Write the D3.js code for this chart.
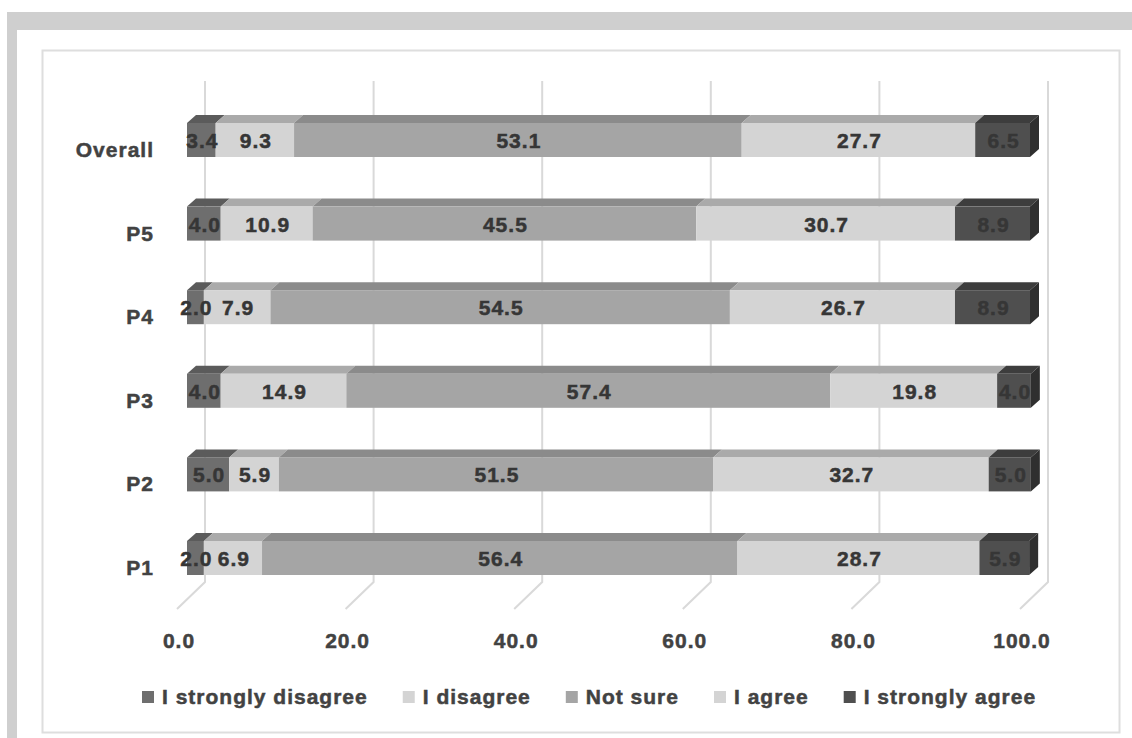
<!DOCTYPE html>
<html>
<head>
<meta charset="utf-8">
<script src="https://cdn.jsdelivr.net/npm/d3@7"></script>
<style>
  html, body { margin: 0; padding: 0; background: #ffffff; }
  svg { display: block; }
  text { font-family: "Liberation Sans", Arial, sans-serif; font-weight: bold; font-size: 21px; letter-spacing: 1px; stroke-width: 0.5px; }
</style>
</head>
<body>
<svg id="chart" width="1132" height="738"></svg>
<script>
// Response shares (%) per group, stacked left to right
const categories = ["Overall", "P5", "P4", "P3", "P2", "P1"];
const seriesNames = ["I strongly disagree", "I disagree", "Not sure", "I agree", "I strongly agree"];
const stronglyDisagree = [3.4, 4.0, 2.0, 4.0, 5.0, 2.0];
const disagree         = [9.3, 10.9, 7.9, 14.9, 5.9, 6.9];
const notSure          = [53.1, 45.5, 54.5, 57.4, 51.5, 56.4];
const agree            = [27.7, 30.7, 26.7, 19.8, 32.7, 28.7];
const stronglyAgree    = [6.5, 8.9, 8.9, 4.0, 5.0, 5.9];
const tickValues = [0, 20, 40, 60, 80, 100];

const seriesValues = [stronglyDisagree, disagree, notSure, agree, stronglyAgree];
const frontFill = ["#6e6e6e", "#d4d4d4", "#a5a5a5", "#d4d4d4", "#4f4f4f"];
const topFill   = ["#5b5b5b", "#aaaaaa", "#8b8b8b", "#aaaaaa", "#3d3d3d"];
const sideFill  = "#2f2f2f";
const labelColor = "#424242";
const valueColor = "#363636";

const svg = d3.select("#chart");

// outer frame
svg.append("rect").attr("x", 7).attr("y", 12).attr("width", 1125).attr("height", 726).attr("fill", "#cfcfcf");
svg.append("rect").attr("x", 17).attr("y", 30).attr("width", 1115).attr("height", 708).attr("fill", "#ffffff");
svg.append("rect").attr("x", 42.5).attr("y", 50.5).attr("width", 1077).attr("height", 682)
  .attr("fill", "none").attr("stroke", "#dedede").attr("stroke-width", 2);

// 3D geometry: x scale at the front edge of the floor; depth shifts right/up
const x = d3.scaleLinear().domain([0, 100]).range([177, 1020]);
const y = d3.scalePoint().domain(categories).range([140, 558]);
const wallDepth = 28, barFront = 10, barBack = 19, barH = 34;
const wallTop = 81, wallBottom = 582;

// gridlines on back wall and floor
const grid = svg.append("g").attr("stroke", "#d9d9d9").attr("stroke-width", 2).attr("fill", "none");
tickValues.forEach(v => {
  grid.append("path").attr("d", d3.line()([
    [x(v) + wallDepth, wallTop],
    [x(v) + wallDepth, wallBottom],
    [x(v), wallBottom + wallDepth - 1]
  ]));
});

// tick labels
svg.append("g").selectAll("text").data(tickValues).join("text")
  .attr("x", v => x(v) + 2).attr("y", 648)
  .attr("text-anchor", "middle")
  .attr("fill", labelColor).attr("stroke", labelColor).text(d3.format(".1f"));

// category labels
svg.append("g").selectAll("text").data(categories).join("text")
  .attr("x", 154).attr("y", c => y(c) + 17)
  .attr("text-anchor", "end")
  .attr("fill", labelColor).attr("stroke", labelColor).text(c => c);

// stacked 3D bars
const stacked = categories.map((c, i) => {
  let acc = 0;
  return seriesValues.map((vals, s) => {
    const x0 = acc; acc += vals[i];
    return { cat: c, s, x0, x1: acc, v: vals[i] };
  });
});

const bars = svg.append("g");
stacked.forEach(row => {
  const g = bars.append("g");
  row.forEach(seg => {
    const fx0 = x(seg.x0) + barFront, fx1 = x(seg.x1) + barFront;
    const top = y(seg.cat) - barH / 2, bot = top + barH;
    const d = barBack - barFront;
    // top face
    g.append("path").attr("fill", topFill[seg.s])
      .attr("d", d3.line()([[fx0, top], [fx1, top], [fx1 + d, top - d + 1], [fx0 + d, top - d + 1]]) + "Z");
    // front face
    g.append("rect").attr("x", fx0).attr("y", top).attr("width", fx1 - fx0).attr("height", barH)
      .attr("fill", frontFill[seg.s]);
    // right side on the last segment
    if (seg.s === seriesValues.length - 1) {
      g.append("path").attr("fill", sideFill)
        .attr("d", d3.line()([[fx1, top], [fx1 + d, top - d + 1], [fx1 + d, bot - d + 1], [fx1, bot]]) + "Z");
    }
  });
  row.forEach(seg => {
    const cx = (x(seg.x0) + x(seg.x1)) / 2 + barFront;
    g.append("text").attr("x", cx + 1).attr("y", y(seg.cat) + 8)
      .attr("text-anchor", "middle")
      .attr("fill", valueColor).attr("stroke", valueColor).text(d3.format(".1f")(seg.v));
  });
});

// legend
const legend = svg.append("g");
let lx = 142;
seriesNames.forEach((name, s) => {
  legend.append("rect").attr("x", lx).attr("y", 691).attr("width", 12).attr("height", 12).attr("fill", frontFill[s]);
  const t = legend.append("text").attr("x", lx + 20).attr("y", 704)
    .attr("fill", labelColor).attr("stroke", labelColor).text(name);
  lx += 20 + t.node().getComputedTextLength() + 35;
});
</script>
</body>
</html>
